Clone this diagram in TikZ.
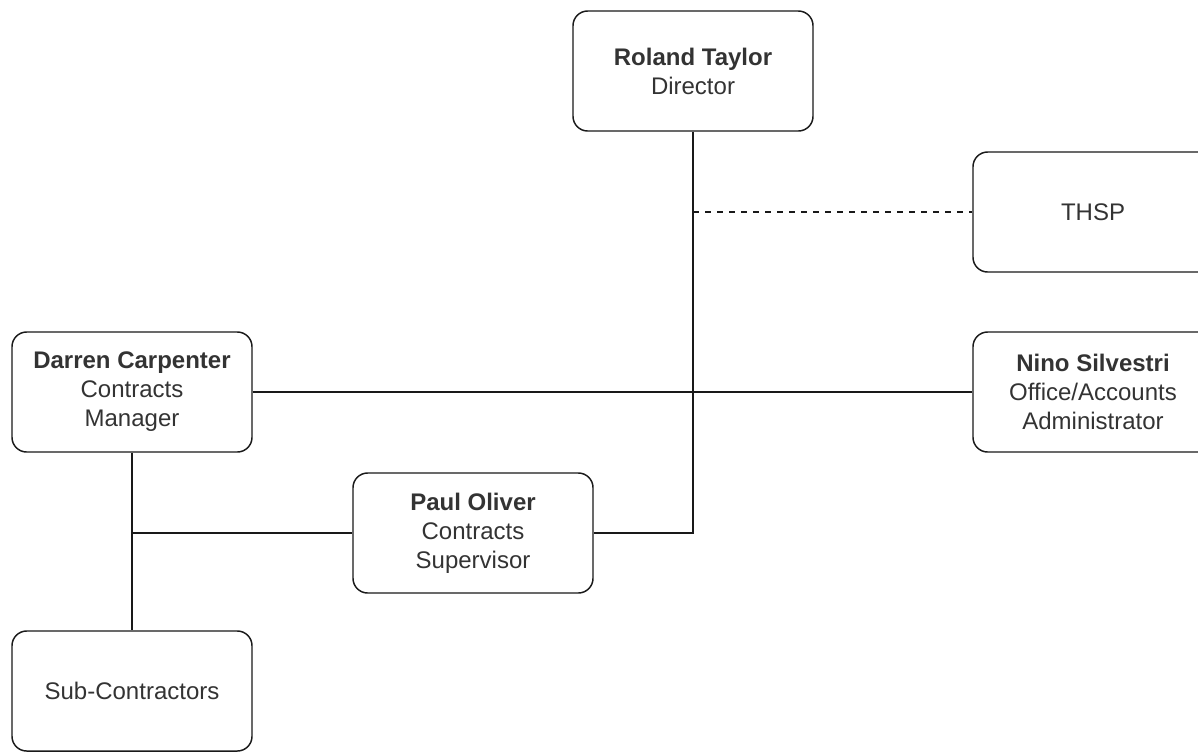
\documentclass[tikz,border=0pt]{standalone}
\usepackage{fontspec}
\setmainfont{Liberation Sans}
\usepackage{tikz}

\tikzset{
  person/.style={draw=black!90, line width=1.1pt, rounded corners=11pt,
    minimum width=180pt, minimum height=90pt, inner sep=0pt, align=center,
    text=black!80, font=\fontsize{18}{21.75}\selectfont},
  link/.style={draw=black!90, line width=1.1pt}
}

\begin{document}
\begin{tikzpicture}[x=0.75pt,y=-0.75pt]

  \clip (0,0) rectangle (1198,751); %FRAME

  \node[person] (rt) at (693,71) {\textbf{Roland Taylor}\\Director}; %TOP
  \node[person] (th) at (1093,212) {THSP}; %RIGHT-UP
  \node[person] (dc) at (132,392) {\textbf{Darren Carpenter}\\Contracts\\Manager}; %LEFT
  \node[person] (ns) at (1093,392) {\textbf{Nino Silvestri}\\Office/Accounts\\Administrator}; %RIGHT
  \node[person] (po) at (473,533) {\textbf{Paul Oliver}\\Contracts\\Supervisor}; %MIDDLE
  \node[person] (sc) at (132,691) {Sub-Contractors}; %BOTTOM

  \draw[link] (rt.south) |- (po.east); %DIRECTOR-SUPERVISOR
  \draw[link, dash pattern=on 4.5pt off 4.5pt] (rt.south |- th.west) -- (th.west); %THSP
  \draw[link] (dc.east) -- (ns.west); %MANAGER-OFFICE
  \draw[link] (dc.south) -- (sc.north); %MANAGER-SUB
  \draw[link] (dc.south |- po.west) -- (po.west); %MANAGER-SUPERVISOR

\end{tikzpicture}
\end{document}
